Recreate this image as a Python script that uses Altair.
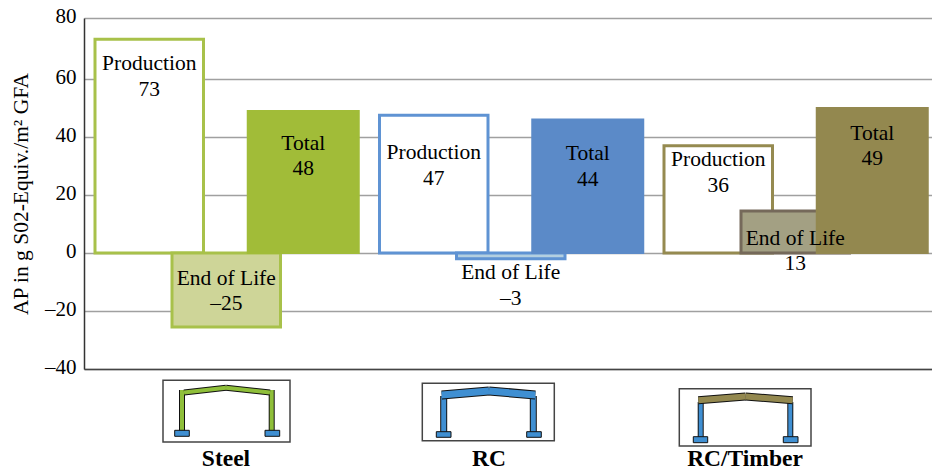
import altair as alt
import pandas as pd

FONT = "Liberation Serif"
structures = ["Steel", "RC", "RC/Timber"]
parts = ["Production", "End of Life", "Total"]

# bars
outline_structure = ["Steel", "Steel", "RC", "RC", "RC/Timber", "RC/Timber"]
outline_part = ["Production", "End of Life"] * 3
outline_value = [73, -25.5, 47.5, -2, 37, 14.5]
outline_fill = ["#ffffff", "#ced598", "#ffffff", "#b3cfe0", "#ffffff", "#a3a083"]
outline_stroke = ["#a8c14a", "#a8c14a", "#5f93d3", "#5f93d3", "#958a50", "#75695a"]

total_structure = structures
total_value = [49, 46, 50]
total_fill = ["#a1bc38", "#5b8ac8", "#93884f"]

# labels
label_structure = ["Steel", "Steel", "Steel", "RC", "RC", "RC", "RC/Timber", "RC/Timber", "RC/Timber"]
label_part = parts * 3
label_number = ["73", "–25", "48", "47", "–3", "44", "36", "13", "49"]
label_anchor = [62.9, -11, 35.6, 32.4, -9, 32, 30, 2.8, 39]

y_ticks = [-40, -20, 0, 20, 40, 60, 80]

# pictograms, in plot pixels
OX, OY = 84, 18
box_x = [163, 422.3, 679.3]
box_x2 = [290, 554.3, 811]
box_y = [380.3, 383.3, 388.7]
box_y2 = [442, 440.7, 446]

foot_x = [174.7, 265, 436.3, 526.7, 693.3, 783.3]
foot_x2 = [189.3, 279.7, 451, 541.3, 707.7, 798]
foot_y = [430.3, 430.3, 431.7, 431.7, 436.7, 436.7]
foot_y2 = [436.3, 436.3, 437.3, 437.3, 442.7, 442.7]

col_x = [182, 271.7, 443.7, 533.3, 700.7, 790.3]
col_y = [390, 390, 396, 396, 402, 402]
col_y2 = [431, 431, 432, 432, 437, 437]
col_w = [4, 4, 5, 5, 4, 4]
col_fill = ["#8fbf3a", "#8fbf3a", "#3f8fd2", "#3f8fd2", "#3f8fd2", "#3f8fd2"]

beam_x = [184, 226, 441.7, 489, 698.3, 745.5]
beam_x2 = [226, 270, 489, 535.3, 745.5, 792.7]
beam_y = [392.5, 387.8, 395, 391, 400.2, 396.5]
beam_y2 = [387.8, 392.5, 391, 395, 396.5, 400.2]
beam_w = [4, 4, 7, 7, 6, 6]
beam_fill = ["#8fbf3a", "#8fbf3a", "#3f8fd2", "#3f8fd2", "#93884f", "#93884f"]

name_x = [226, 489, 745]
name_y = [466, 466, 466]

outline_df = pd.DataFrame({"s": outline_structure, "p": outline_part, "v": outline_value,
                           "fill": outline_fill, "stroke": outline_stroke})
total_df = pd.DataFrame({"s": total_structure, "p": "Total", "v": total_value, "fill": total_fill})
label_df = pd.DataFrame({"s": label_structure, "p": label_part, "a": label_anchor,
                         "t": [f"{p}\n{n}" for p, n in zip(label_part, label_number)]})

x_scale = alt.Scale(domain=structures, paddingInner=0, paddingOuter=0, range=[0, 853.5])
off_scale = alt.Scale(type="point", domain=parts, range=[65.25, 219.25], padding=0)
y_scale = alt.Scale(domain=[-40, 60, 80], range=[351, 61, 0])
X_hidden = alt.X("s:N", scale=x_scale, axis=None)
OFF = alt.XOffset("p:N", scale=off_scale)
Y_hidden = alt.Y("v:Q", scale=y_scale, axis=None, stack=None)

outline = alt.Chart(outline_df).mark_bar(size=108.5, strokeWidth=3).encode(
    x=alt.X("s:N", scale=x_scale, title=None,
            axis=alt.Axis(labels=False, ticks=False, domainColor="#444444", domainWidth=1.5)),
    xOffset=OFF,
    y=alt.Y("v:Q", scale=y_scale, stack=None, title="AP in g S02-Equiv./m² GFA",
            axis=alt.Axis(values=y_ticks, ticks=False, labelFont=FONT, labelFontSize=21,
                          labelColor="#000000", labelPadding=8, labelOverlap=False, labelOffset=-2,
                          labelExpr="replace(datum.label, '−', '–')",
                          titleFont=FONT, titleFontSize=21.5, titleFontWeight="normal",
                          titleColor="#000000", titlePadding=12,
                          domainColor="#333333", domainWidth=1.5,
                          gridColor="#a0a0a0", gridWidth=1.5)),
    fill=alt.Fill("fill:N", scale=None),
    stroke=alt.Stroke("stroke:N", scale=None),
)
total = alt.Chart(total_df).mark_bar(size=111, strokeWidth=2).encode(
    x=X_hidden, xOffset=OFF, y=Y_hidden,
    fill=alt.Fill("fill:N", scale=None), stroke=alt.Stroke("fill:N", scale=None))
text = alt.Chart(label_df).mark_text(font=FONT, fontSize=21.5, lineBreak="\n", lineHeight=25.5,
                                     baseline="alphabetic", color="#000000").encode(
    x=X_hidden, xOffset=OFF, y=alt.Y("a:Q", scale=y_scale, axis=None), text="t:N")

px = lambda v: [a - OX for a in v]
py = lambda v: [a - OY for a in v]
PX = alt.X("x:Q", scale=None, axis=None)
PX2 = alt.X2("x2:Q")
PY = alt.Y("y:Q", scale=None, axis=None)
PY2 = alt.Y2("y2:Q")

boxes = alt.Chart(pd.DataFrame({"x": px(box_x), "x2": px(box_x2), "y": py(box_y), "y2": py(box_y2)})).mark_rect(
    fill="#ffffff", stroke="#444444", strokeWidth=1.5).encode(x=PX, x2=PX2, y=PY, y2=PY2)


def rules(xs, x2s, ys, y2s, widths, fills):
    d = pd.DataFrame({"x": px(xs), "x2": px(x2s), "y": py(ys), "y2": py(y2s),
                      "w": widths, "w2": [w + 2 for w in widths], "fill": fills})
    base = alt.Chart(d).mark_rule().encode(x=PX, x2=PX2, y=PY, y2=PY2)
    return [base.encode(strokeWidth=alt.StrokeWidth("w2:Q", scale=None), color=alt.value("#111111")),
            base.encode(strokeWidth=alt.StrokeWidth("w:Q", scale=None), color=alt.Color("fill:N", scale=None))]


columns = rules(col_x, col_x, col_y, col_y2, col_w, col_fill)
beams = rules(beam_x, beam_x2, beam_y, beam_y2, beam_w, beam_fill)
feet = alt.Chart(pd.DataFrame({"x": px(foot_x), "x2": px(foot_x2), "y": py(foot_y), "y2": py(foot_y2)})).mark_rect(
    fill="#3f8fd2", stroke="#111111", strokeWidth=1).encode(x=PX, x2=PX2, y=PY, y2=PY2)
names = alt.Chart(pd.DataFrame({"x": px(name_x), "y": py(name_y), "t": structures})).mark_text(
    font=FONT, fontSize=23.5, fontWeight="bold", baseline="alphabetic", color="#000000").encode(
    x=PX, y=PY, text="t:N")

chart = alt.layer(outline, total, text, boxes, *columns, *beams, feet, names).resolve_scale(
    x="independent", y="independent"
).properties(
    width=848, height=351,
    padding={"left": 76, "top": 10, "right": 0, "bottom": 98},
    autosize=alt.AutoSizeParams(type="none"),
).configure_view(stroke=None)

chart.save("out.html", embed_options={"renderer": "svg", "actions": False})
